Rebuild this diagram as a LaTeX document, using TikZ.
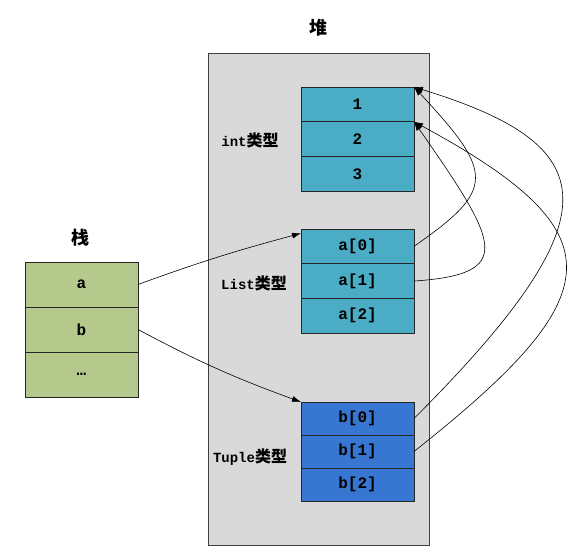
\documentclass[tikz,border=0pt]{standalone}
\usepackage{fontspec}
\setmainfont{Liberation Mono}
\newfontfamily\cjk{Noto Sans CJK SC}
\usepackage{xcolor}
\usepackage{tikz}
\usetikzlibrary{positioning}
\usetikzlibrary{arrows.meta}
\definecolor{stackgreen}{RGB}{181,201,141}
\definecolor{listteal}{RGB}{75,172,198}
\definecolor{tupleblue}{RGB}{55,119,209}
\definecolor{heapgray}{RGB}{217,217,217}
\tikzset{
    cell/.style={draw=black!85, line width=0.8pt, rectangle, outer sep=0pt, minimum height=34.7pt, minimum width=113pt, fill=listteal, font=\fontsize{16}{18}\selectfont\bfseries},
    slot/.style={cell, minimum height=45pt, fill=stackgreen},
    tcell/.style={cell, minimum height=33pt, fill=tupleblue},
    tag/.style={font=\fontsize{14}{16}\selectfont\bfseries},
    title/.style={font=\fontsize{18}{20}\selectfont\cjk\bfseries},
    arrow/.style={line width=0.6pt,-{Latex[length=9pt,width=6pt]}}
}

\begin{document}
\begin{tikzpicture}[x=1pt,y=1pt]
\useasboundingbox (0,0) rectangle (580,557);

% heap
\node [draw=black!75, line width=0.8pt, fill=heapgray, minimum width=221pt, minimum height=492pt, anchor=north west] (heap) at (208,504) {};
\node [title] (heaptitle) at (318,529) {堆};

\node [cell] (i0) at (357.5,452.65) {1};
\node [cell, below=0pt of i0] (i1) {2};
\node [cell, below=0pt of i1] (i2) {3};

\node [cell] (l0) at (357.5,310.65) {a[0]};
\node [cell, below=0pt of l0] (l1) {a[1]};
\node [cell, below=0pt of l1] (l2) {a[2]};

\node [tcell] (t0) at (357.5,138.5) {b[0]};
\node [tcell, below=0pt of t0] (t1) {b[1]};
\node [tcell, below=0pt of t1] (t2) {b[2]};

\node [tag] (inttag)   at (250,417) {int{\fontsize{16}{18}\selectfont\cjk 类型}};
\node [tag] (listtag)  at (254,274) {List{\fontsize{16}{18}\selectfont\cjk 类型}};
\node [tag] (tupletag) at (250,100) {Tuple{\fontsize{16}{18}\selectfont\cjk 类型}};

% stack
\node [title] (stacktitle) at (80,319) {栈};
\node [slot] (s0) at (81.5,272.5) {a};
\node [slot, below=0pt of s0] (s1) {b};
\node [slot, below=0pt of s1] (s2) {…};

\draw [arrow] (s0.east) to [out=20, in=195] (l0.167);
\draw [arrow] (s1.east) to [out=-28, in=160] (t0.north west);

\draw [arrow] (l0.east) .. controls +(82,57) and +(80,-86) .. (i0.north east);
\draw [arrow] (l1.east) .. controls +(102,7) and +(85,-122) .. (i1.north east);
\draw [arrow] (t0.east) .. controls +(206,206) and +(188,-58) .. (i0.north east);
\draw [arrow] (t1.east) .. controls +(197,156) and +(207,-112) .. (i1.north east);

\end{tikzpicture}
\end{document}
